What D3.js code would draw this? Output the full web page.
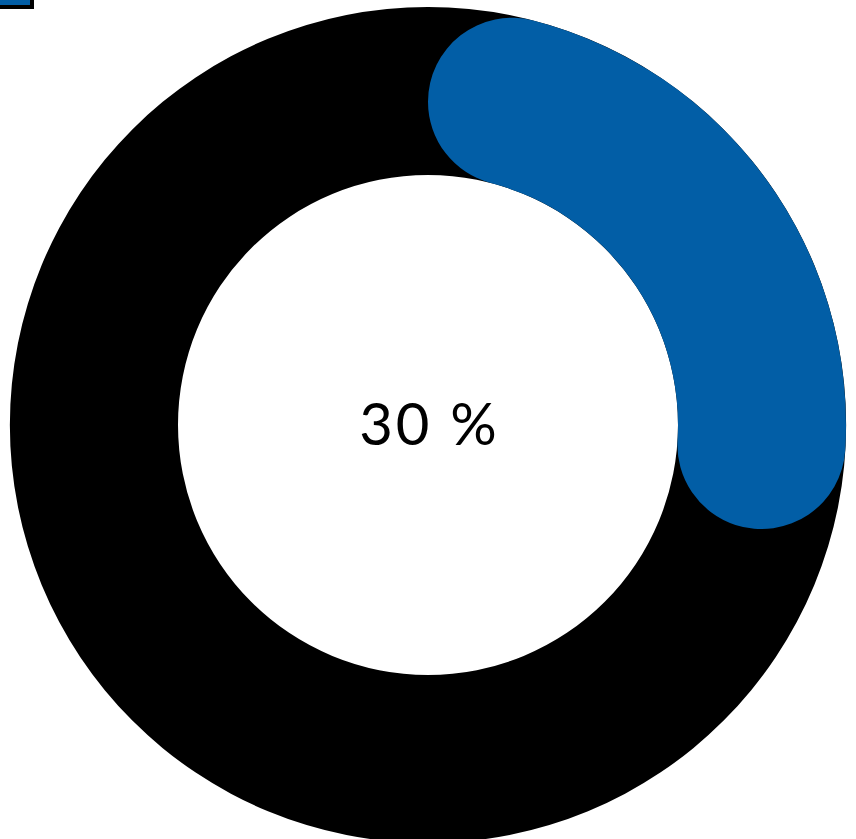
<!DOCTYPE html>
<html><head><meta charset="utf-8">
<script src="https://cdn.jsdelivr.net/npm/d3@7"></script>
<style>html,body{margin:0;padding:0;background:#fff;overflow:hidden}</style>
</head><body>
<svg id="c" width="856" height="839"></svg>
<script>
const categories = ["Progress", "Remaining"];
const values = [30, 70];
const colors = ["#025ea6", "#000000"];
const labelText = "30 %";

const svg = d3.select("#c");
const cx = 428, cy = 425, outerR = 418, innerR = 250;
const g = svg.append("g").attr("transform", `translate(${cx},${cy})`);

const total = d3.sum(values);
const angle = d3.scaleLinear().domain([0, total]).range([0, 2 * Math.PI]);

// background ring
g.append("path")
  .attr("d", d3.arc().innerRadius(innerR).outerRadius(outerR).startAngle(0).endAngle(2 * Math.PI)())
  .attr("fill", colors[1]);

// progress arc
g.append("path")
  .attr("d", d3.arc().innerRadius(innerR).outerRadius(outerR)
    .cornerRadius((outerR - innerR) / 2)
    .startAngle(angle(0)).endAngle(angle(values[0]))())
  .attr("fill", colors[0]);

g.append("text")
  .attr("x", 1.5).attr("y", 20)
  .attr("text-anchor", "middle")
  .attr("font-family", "Lato, 'Open Sans', sans-serif")
  .attr("font-weight", 400)
  .attr("font-size", 58)
  .attr("letter-spacing", 3)
  .attr("fill", "#000")
  .text(labelText);

// partially visible legend swatch in top-left corner
svg.append("rect")
  .attr("x", -30).attr("y", -30).attr("width", 62).attr("height", 37)
  .attr("fill", colors[0]).attr("stroke", "#000").attr("stroke-width", 4);
</script>
</body></html>
